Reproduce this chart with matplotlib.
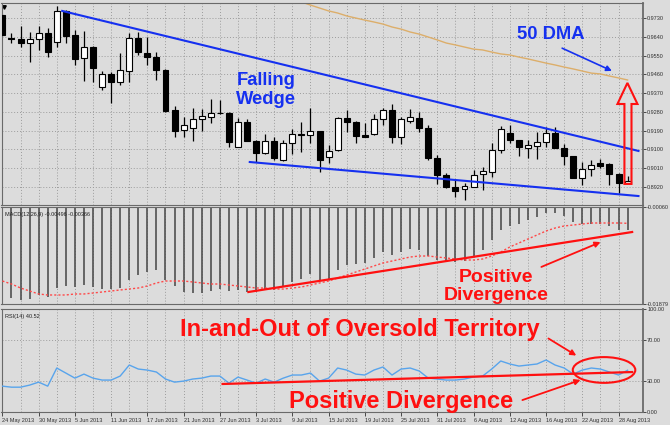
import matplotlib
matplotlib.use("Agg")
import matplotlib.pyplot as plt
from matplotlib.patches import Ellipse, Polygon

# daily candles 24 May 2013 .. 29 Aug 2013 (bar index 0..69)
date_labels = ['24 May 2013', '30 May 2013', '5 Jun 2013', '11 Jun 2013', '17 Jun 2013',
               '21 Jun 2013', '27 Jun 2013', '3 Jul 2013', '9 Jul 2013', '15 Jul 2013',
               '19 Jul 2013', '25 Jul 2013', '31 Jul 2013', '6 Aug 2013', '12 Aug 2013',
               '16 Aug 2013', '22 Aug 2013', '28 Aug 2013']
label_bars = list(range(0, 70, 4))

opens = [0.9744, 0.9634, 0.9629, 0.9610, 0.9629, 0.9658, 0.9615, 0.9764, 0.9649, 0.9538,
         0.9591, 0.9399, 0.9462, 0.9423, 0.9476, 0.9634, 0.9562, 0.9543, 0.9481, 0.9289,
         0.9194, 0.9203, 0.9246, 0.9256, 0.9275, 0.9275, 0.9112, 0.9232, 0.9141, 0.9083,
         0.9141, 0.9050, 0.9131, 0.9172, 0.9170, 0.9189, 0.9064, 0.9098, 0.9251, 0.9232,
         0.9170, 0.9174, 0.9246, 0.9289, 0.9160, 0.9237, 0.9251, 0.9203, 0.9059, 0.8978,
         0.8921, 0.8911, 0.8921, 0.8983, 0.8992, 0.9098, 0.9179, 0.9146, 0.9107, 0.9117,
         0.9136, 0.9179, 0.9107, 0.9069, 0.8964, 0.9007, 0.9035, 0.9031, 0.8983, 0.8940]
highs = [0.9749, 0.9658, 0.9692, 0.9663, 0.9692, 0.9682, 0.9787, 0.9768, 0.9673, 0.9668,
         0.9596, 0.9476, 0.9471, 0.9562, 0.9658, 0.9663, 0.9639, 0.9567, 0.9486, 0.9308,
         0.9256, 0.9299, 0.9294, 0.9342, 0.9337, 0.9280, 0.9251, 0.9246, 0.9146, 0.9174,
         0.9160, 0.9146, 0.9198, 0.9232, 0.9299, 0.9189, 0.9122, 0.9256, 0.9289, 0.9237,
         0.9227, 0.9270, 0.9299, 0.9318, 0.9256, 0.9294, 0.9280, 0.9217, 0.9074, 0.8988,
         0.8954, 0.8940, 0.9002, 0.9016, 0.9131, 0.9213, 0.9217, 0.9146, 0.9146, 0.9184,
         0.9208, 0.9208, 0.9126, 0.9069, 0.9040, 0.9050, 0.9055, 0.9035, 0.8988, 0.8973]
lows = [0.9644, 0.9610, 0.9591, 0.9519, 0.9577, 0.9543, 0.9591, 0.9610, 0.9505, 0.9428,
        0.9423, 0.9385, 0.9323, 0.9409, 0.9423, 0.9553, 0.9505, 0.9433, 0.9280, 0.9160,
        0.9160, 0.9141, 0.9189, 0.9227, 0.9270, 0.9112, 0.9112, 0.9141, 0.9040, 0.9079,
        0.9050, 0.9045, 0.9079, 0.9088, 0.9131, 0.8992, 0.9035, 0.9093, 0.9184, 0.9131,
        0.9160, 0.9170, 0.9217, 0.9131, 0.9126, 0.9227, 0.9184, 0.9050, 0.8935, 0.8916,
        0.8873, 0.8858, 0.8921, 0.8906, 0.8968, 0.9083, 0.9131, 0.9069, 0.9059, 0.9055,
        0.9112, 0.9107, 0.9026, 0.8964, 0.8930, 0.8973, 0.9011, 0.8930, 0.8892, 0.8940]
closes = [0.9649, 0.9629, 0.9610, 0.9629, 0.9658, 0.9567, 0.9764, 0.9644, 0.9534, 0.9591,
          0.9490, 0.9462, 0.9423, 0.9481, 0.9634, 0.9567, 0.9543, 0.9481, 0.9285, 0.9189,
          0.9217, 0.9246, 0.9261, 0.9275, 0.9273, 0.9136, 0.9232, 0.9141, 0.9083, 0.9141,
          0.9059, 0.9131, 0.9174, 0.9170, 0.9189, 0.9050, 0.9093, 0.9251, 0.9232, 0.9165,
          0.9160, 0.9246, 0.9289, 0.9160, 0.9246, 0.9256, 0.9203, 0.9059, 0.8978, 0.8921,
          0.8901, 0.8925, 0.8978, 0.8997, 0.9098, 0.9198, 0.9146, 0.9112, 0.9122, 0.9136,
          0.9179, 0.9107, 0.9069, 0.8964, 0.9007, 0.9026, 0.9021, 0.8983, 0.8940, 0.8949]

# 50 day moving average, visible from bar 32 on
dma_start = 32
dma = [0.9816, 0.9807, 0.9792, 0.9778, 0.9764, 0.9754, 0.9740, 0.9730, 0.9720, 0.9711,
       0.9701, 0.9687, 0.9677, 0.9663, 0.9653, 0.9639, 0.9625, 0.9610, 0.9601, 0.9591,
       0.9581, 0.9577, 0.9567, 0.9558, 0.9553, 0.9543, 0.9534, 0.9524, 0.9514, 0.9505,
       0.9495, 0.9486, 0.9476, 0.9466, 0.9462, 0.9452, 0.9443, 0.9433]

macd = [-0.01729, -0.01766, -0.01804, -0.01785, -0.01710, -0.01748, -0.01579, -0.01541, -0.01560, -0.01523,
        -0.01560, -0.01598, -0.01598, -0.01579, -0.01429, -0.01335, -0.01279, -0.01241, -0.01429, -0.01541,
        -0.01654, -0.01673, -0.01673, -0.01635, -0.01598, -0.01635, -0.01616, -0.01654, -0.01654, -0.01598,
        -0.01616, -0.01541, -0.01466, -0.01410, -0.01316, -0.01429, -0.01410, -0.01241, -0.01148, -0.01129,
        -0.01110, -0.01016, -0.00904, -0.00960, -0.00904, -0.00848, -0.00866, -0.00979, -0.01054, -0.01091,
        -0.01091, -0.01073, -0.00979, -0.00866, -0.00679, -0.00491, -0.00416, -0.00379, -0.00304, -0.00248,
        -0.00173, -0.00173, -0.00229, -0.00341, -0.00379, -0.00379, -0.00379, -0.00416, -0.00491, -0.00496]
signal = [-0.01448, -0.01504, -0.01579, -0.01635, -0.01691, -0.01710, -0.01710, -0.01710, -0.01691, -0.01691,
          -0.01673, -0.01654, -0.01635, -0.01616, -0.01598, -0.01579, -0.01541, -0.01485, -0.01448, -0.01448,
          -0.01448, -0.01466, -0.01485, -0.01504, -0.01504, -0.01523, -0.01541, -0.01560, -0.01579, -0.01579,
          -0.01598, -0.01598, -0.01579, -0.01560, -0.01523, -0.01485, -0.01448, -0.01391, -0.01335, -0.01279,
          -0.01223, -0.01166, -0.01110, -0.01073, -0.01035, -0.00998, -0.00979, -0.00979, -0.00998, -0.01016,
          -0.01035, -0.01054, -0.01054, -0.01035, -0.00979, -0.00904, -0.00810, -0.00735, -0.00660, -0.00585,
          -0.00510, -0.00454, -0.00416, -0.00398, -0.00379, -0.00360, -0.00360, -0.00360, -0.00360, -0.00366]

rsi = [25.1, 24.1, 24.1, 26.1, 29.0, 25.1, 42.7, 37.8, 32.9, 36.8,
       32.9, 31.0, 31.0, 34.9, 45.6, 41.7, 40.7, 38.8, 32.0, 29.0,
       30.0, 32.0, 32.9, 34.9, 34.9, 28.0, 33.9, 31.0, 28.0, 32.0,
       29.0, 32.9, 35.9, 35.9, 37.8, 30.0, 32.9, 42.7, 40.7, 36.8,
       35.9, 40.7, 43.7, 35.9, 41.7, 42.7, 39.8, 32.9, 32.0, 31.0,
       31.0, 32.0, 34.0, 34.9, 41.7, 49.5, 46.6, 44.6, 45.6, 46.6,
       50.5, 45.6, 42.7, 36.8, 40.7, 42.7, 41.7, 38.8, 35.9, 40.52]

price_ticks = [0.9730, 0.9640, 0.9550, 0.9460, 0.9370, 0.9280, 0.9190, 0.9100, 0.9010, 0.8920]

BG = '#dcdcdc'
GRID = '#9c9c9c'
BLUE = '#1530f0'
RED = '#ff1010'
plt.rcParams['font.family'] = ['Liberation Sans', 'DejaVu Sans']

fig = plt.figure(figsize=(6.7, 4.25), dpi=100, facecolor=BG)
W, H = 670.0, 425.0


def panel(top, bottom):
    return fig.add_axes([1.5 / W, 1 - bottom / H, 641.5 / W, (bottom - top) / H], facecolor=BG)


ax = panel(3, 205)
ax_m = panel(207, 304)
ax_r = panel(309, 412)

n = len(closes)
xs = list(range(n))
for a in (ax, ax_m, ax_r):
    a.set_xlim(-0.1, 70.7)
    a.yaxis.tick_right()
    a.set_xticks(range(0, 70, 2), minor=True)
    a.set_xticks(label_bars)
    a.grid(True, axis='x', which='both', color=GRID, linestyle=(0, (1, 2)), linewidth=0.7)
    a.tick_params(axis='x', which='minor', length=0)
    a.tick_params(axis='y', labelsize=4, length=2, pad=1, width=0.6, colors='#303030')
    for s in a.spines.values():
        s.set_color('#6a6a6a')
        s.set_linewidth(0.8)
    a.spines['right'].set_linewidth(1.3)
    a.set_axisbelow(True)
for a in (ax, ax_m):
    a.tick_params(axis='x', which='major', length=0, labelbottom=False)

# price panel
ax.set_ylim(0.8834, 0.9802)
ax.set_yticks(price_ticks)
ax.set_yticklabels(['%.4f' % p for p in price_ticks])
ax.grid(True, axis='y', color=GRID, linestyle=(0, (1, 2)), linewidth=0.7)
ax.vlines(xs, lows, highs, color='black', linewidth=0.9, zorder=2)
for i in xs:
    o, c = opens[i], closes[i]
    ax.bar(i, abs(c - o), bottom=min(o, c), width=0.66,
           color='white' if c >= o else 'black', edgecolor='black', linewidth=0.8, zorder=3)
ax.plot(range(dma_start, n), dma, color='#dcae6a', linewidth=1.0, zorder=2)
ax.plot([0.2], [0.9785], marker='v', color='black', markersize=2.5, linestyle='none')

# falling wedge, 50 DMA notes
ax.plot([6.6, 70.2], [0.9764, 0.9093], color=BLUE, linewidth=1.5, zorder=4)
ax.plot([27.3, 70.2], [0.9040, 0.8877], color=BLUE, linewidth=1.5, zorder=4)
ax.text(29.1, 0.9385, 'Falling\nWedge', color=BLUE, fontsize=13.2, fontweight='bold',
        ha='center', va='center', linespacing=1.15, zorder=5)
ax.text(60.5, 0.9649, '50 DMA', color=BLUE, fontsize=13.2, fontweight='bold',
        ha='center', va='center', zorder=5)
ax.annotate('', xy=(67.55, 0.9471), xytext=(61.5, 0.9591),
            arrowprops=dict(arrowstyle='-|>', color=BLUE, lw=1.2, mutation_scale=8))
ax.add_patch(Polygon([(68.65, 0.8935), (69.43, 0.8935), (69.43, 0.9318), (70.09, 0.9318),
                      (68.98, 0.9419), (67.88, 0.9318), (68.65, 0.9318)],
                     closed=True, facecolor='none', edgecolor=RED, linewidth=1.5, zorder=5))

# MACD panel
ax_m.set_ylim(-0.01879, -0.00060)
ax_m.set_yticks([-0.00060, -0.01879])
ax_m.set_yticklabels(['-0.00060', '-0.01879'])
ax_m.vlines(xs, 0, macd, color='#505050', linewidth=1.2, zorder=2)
ax_m.plot(xs, signal, color='#ff4848', linewidth=1.0, linestyle=(0, (1.5, 1.5)), zorder=3)
ax_m.text(0.006, 0.95, 'MACD(12,26,9) -0.00496 -0.00366', transform=ax_m.transAxes,
          fontsize=4, color='#202020', va='top', ha='left')
ax_m.plot([27.15, 69.5], [-0.01654, -0.00529], color=RED, linewidth=1.6, zorder=4)
ax_m.annotate('', xy=(66.3, -0.00698), xytext=(59.2, -0.01204),
              arrowprops=dict(arrowstyle='-|>', color=RED, lw=1.3, mutation_scale=8))
ax_m.text(54.5, -0.01555, 'Positive\nDivergence', color=RED, fontsize=14, fontweight='bold',
          ha='center', va='center', linespacing=1.05, zorder=5)

# RSI panel
ax_r.set_ylim(0, 100)
ax_r.set_yticks([100, 70, 30, 0])
ax_r.set_yticklabels(['100.00', '70.00', '30.00', '0.00'])
ax_r.axhline(70, color=GRID, linestyle=(0, (1, 2)), linewidth=0.7)
ax_r.axhline(30, color=GRID, linestyle=(0, (1, 2)), linewidth=0.7)
ax_r.plot(xs, rsi, color='#58a4ec', linewidth=1.0, zorder=3)
ax_r.text(0.006, 0.95, 'RSI(14) 40.52', transform=ax_r.transAxes,
          fontsize=4, color='#202020', va='top', ha='left')
ax_r.plot([24.3, 69.5], [27.2, 38.8], color=RED, linewidth=1.6, zorder=4)
ax_r.add_patch(Ellipse((66.4, 40.8), 6.9, 25.0, facecolor='none', edgecolor=RED, linewidth=1.5, zorder=5))
ax_r.text(39.5, 80.5, 'In-and-Out of Oversold Territory', color=RED, fontsize=17,
          fontweight='bold', ha='center', va='center', zorder=5)
ax_r.text(56.4, 10.0, 'Positive Divergence', color=RED, fontsize=17,
          fontweight='bold', ha='right', va='center', zorder=5)
ax_r.annotate('', xy=(63.6, 53.4), xytext=(60.0, 72.8),
              arrowprops=dict(arrowstyle='-|>', color=RED, lw=1.3, mutation_scale=8))
ax_r.annotate('', xy=(64.1, 32.0), xytext=(57.1, 10.7),
              arrowprops=dict(arrowstyle='-|>', color=RED, lw=1.3, mutation_scale=8))

ax_r.set_xticklabels(date_labels)
ax_r.tick_params(axis='x', which='major', labelsize=4, length=3, width=0.6, pad=1.5,
                 colors='#303030')
for lbl in ax_r.get_xticklabels():
    lbl.set_ha('left')

fig.savefig('out.png', dpi=100, facecolor=BG)
